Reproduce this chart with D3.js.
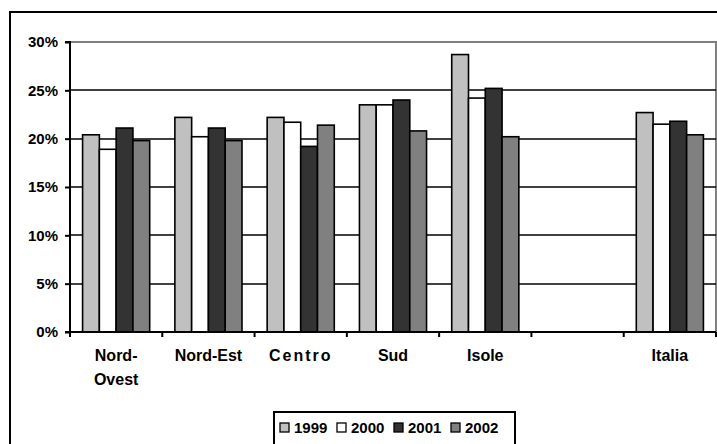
<!DOCTYPE html>
<html>
<head>
<meta charset="utf-8">
<script src="https://cdn.jsdelivr.net/npm/d3@7"></script>
<style>
  html, body { margin: 0; padding: 0; background: #fff; }
  svg { display: block; font-family: "Liberation Sans", Arial, sans-serif; font-weight: bold; }
</style>
</head>
<body>
<svg id="chart" width="717" height="444"></svg>
<script>
// ---- data ----
const categories = ["Nord-Ovest", "Nord-Est", "Centro", "Sud", "Isole", "", "Italia"];
const categoryLabels = [["Nord-", "Ovest"], ["Nord-Est"], ["Centro"], ["Sud"], ["Isole"], [""], ["Italia"]];
const years = ["1999", "2000", "2001", "2002"];
const v1999 = [0.204, 0.222, 0.222, 0.235, 0.287, null, 0.227];
const v2000 = [0.189, 0.202, 0.217, 0.235, 0.242, null, 0.215];
const v2001 = [0.211, 0.211, 0.192, 0.240, 0.252, null, 0.218];
const v2002 = [0.198, 0.198, 0.214, 0.208, 0.202, null, 0.204];
const yTicks = [0, 0.05, 0.10, 0.15, 0.20, 0.25, 0.30];
const colors = ["#C0C0C0", "#FFFFFF", "#333333", "#808080"];

const seriesValues = [v1999, v2000, v2001, v2002];

// ---- layout ----
const svg = d3.select("#chart");
const plot = { left: 70, top: 42, right: 716, bottom: 332 };

// outer chart frame (extends past the visible window)
svg.append("rect")
  .attr("x", 10).attr("y", 12).attr("width", 800).attr("height", 600)
  .attr("fill", "#fff").attr("stroke", "#000").attr("stroke-width", 2);

const x = d3.scaleBand().domain(categories).range([plot.left, plot.right]).paddingInner(0).paddingOuter(0);
const xs = d3.scaleBand().domain(years).range([0, x.bandwidth()]).paddingInner(0).paddingOuter(0.75);
const y = d3.scaleLinear().domain([0, 0.30]).range([plot.bottom, plot.top]);

// plot area border (gray)
svg.append("rect")
  .attr("x", plot.left).attr("y", plot.top)
  .attr("width", plot.right - plot.left).attr("height", plot.bottom - plot.top)
  .attr("fill", "none").attr("stroke", "#808080").attr("stroke-width", 2);

// gridlines
svg.append("g").selectAll("line")
  .data(yTicks.filter(d => d > 0 && d < 0.30))
  .join("line")
  .attr("x1", plot.left).attr("x2", plot.right)
  .attr("y1", d => Math.round(y(d))).attr("y2", d => Math.round(y(d)))
  .attr("stroke", "#000").attr("stroke-width", 1.6);

// bars
const barData = [];
categories.forEach((c, i) => {
  years.forEach((yr, j) => {
    const v = seriesValues[j][i];
    if (v != null) barData.push({ c, yr, v, color: colors[j] });
  });
});
svg.append("g").selectAll("rect")
  .data(barData)
  .join("rect")
  .attr("x", d => x(d.c) + xs(d.yr))
  .attr("y", d => y(d.v))
  .attr("width", xs.bandwidth())
  .attr("height", d => y(0) - y(d.v))
  .attr("fill", d => d.color)
  .attr("stroke", "#000").attr("stroke-width", 1.6);

// y axis
const yAxis = svg.append("g")
  .attr("transform", `translate(${plot.left},0)`)
  .call(d3.axisLeft(y).tickValues(yTicks).tickFormat(d3.format(".0%")).tickSize(5).tickPadding(7));
yAxis.select(".domain").attr("stroke", "#000").attr("stroke-width", 2).attr("d", `M-5,${plot.top}H0V${plot.bottom}H-5`);
yAxis.selectAll(".tick line").attr("stroke", "#000").attr("stroke-width", 2);
yAxis.selectAll(".tick text").attr("font-size", 15).attr("font-weight", "bold")
  .attr("font-family", "'Liberation Sans', Arial, sans-serif").attr("fill", "#000");

// x axis
const xAxis = svg.append("g")
  .attr("transform", `translate(0,${plot.bottom})`)
  .call(d3.axisBottom(x).tickSize(0).tickFormat(() => ""));
xAxis.select(".domain").attr("stroke", "#000").attr("stroke-width", 2).attr("d", `M${plot.left},0H${plot.right}`);
// boundary ticks
const bounds = categories.map(c => x(c)).concat([plot.right]);
xAxis.append("g").selectAll("line")
  .data(bounds)
  .join("line")
  .attr("x1", d => d).attr("x2", d => d)
  .attr("y1", 0).attr("y2", 5)
  .attr("stroke", "#000").attr("stroke-width", 2);
// labels
xAxis.selectAll(".tick").each(function(d, i) {
  const t = d3.select(this).select("text")
    .attr("y", 0).attr("dy", null)
    .attr("font-size", 16).attr("font-weight", "bold")
    .attr("font-family", "'Liberation Sans', Arial, sans-serif").attr("fill", "#000")
    .attr("letter-spacing", d === "Centro" ? 2 : null)
    .text(null);
  categoryLabels[i].forEach((line, k) => {
    t.append("tspan").attr("x", 0).attr("y", 29 + k * 24).text(line);
  });
});

// legend
const legend = svg.append("g");
legend.append("rect")
  .attr("x", 274).attr("y", 412).attr("width", 241).attr("height", 60)
  .attr("fill", "#fff").attr("stroke", "#000").attr("stroke-width", 2);
const li = legend.selectAll("g.item")
  .data(years)
  .join("g").attr("class", "item")
  .attr("transform", (d, i) => `translate(${280 + i * 57},0)`);
li.append("rect")
  .attr("x", 0).attr("y", 423).attr("width", 9).attr("height", 9)
  .attr("fill", (d, i) => colors[i]).attr("stroke", "#000").attr("stroke-width", 1.3);
li.append("text")
  .attr("x", 14).attr("y", 433)
  .attr("font-size", 15).attr("font-weight", "bold").attr("fill", "#000")
  .text(d => d);
</script>
</body>
</html>
